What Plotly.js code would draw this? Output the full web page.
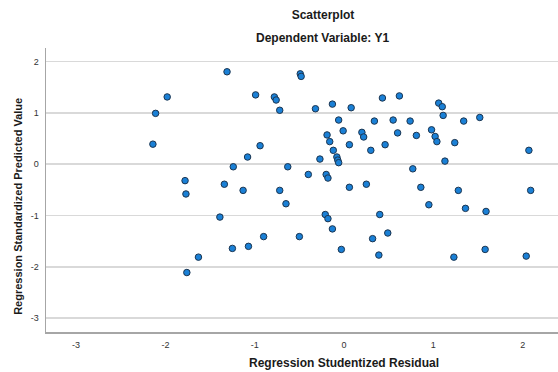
<!DOCTYPE html>
<html>
<head>
<meta charset="utf-8">
<script src="https://cdn.plot.ly/plotly-3.0.1.min.js"></script>
<style>html,body{margin:0;padding:0;background:#fff;}#chart{width:558px;height:372px;}</style>
</head>
<body>
<div id="chart"></div>
<script>
// Regression Studentized Residual
const residual = [
  -1.98, -2.11, -2.14, -1.78, -1.77, -1.63, -1.76, -1.39, -1.25, -1.07,
  -0.90, -0.50, -0.21, -0.18, -0.13, -0.03, 0.32, 0.39, 0.40, -1.31,
  -0.49, -0.48, -0.99, -0.78, -0.76, -0.72, -0.32, -0.13, 0.08, -0.06,
  0.34, -0.01, 0.20, 0.22, -0.19, -0.16, 0.06, 0.30, -0.12, -0.94,
  -1.08, -0.27, -0.08, -0.07, -0.06, -1.24, -0.63, -0.40, -0.20, -0.18,
  -1.34, -1.13, -0.72, -0.65, 0.06, 0.25, 0.86, 1.28, 2.09, 0.95,
  1.36, 1.59, 0.49, 1.23, 1.58, 2.04, 0.43, 0.62, 1.06, 1.10,
  1.11, 0.55, 0.74, 1.34, 1.52, 0.60, 0.81, 0.98, 1.02, 1.04,
  1.24, 0.46, 2.07, 1.13, 0.77
];
// Regression Standardized Predicted Value
const predicted = [
  1.31, 0.99, 0.39, -0.32, -0.58, -1.81, -2.11, -1.03, -1.64, -1.60,
  -1.41, -1.41, -0.98, -1.06, -1.26, -1.66, -1.45, -1.77, -0.98, 1.80,
  1.76, 1.71, 1.35, 1.31, 1.25, 1.05, 1.08, 1.17, 1.10, 0.86,
  0.84, 0.65, 0.62, 0.53, 0.57, 0.44, 0.38, 0.27, 0.27, 0.36,
  0.14, 0.10, 0.14, 0.08, 0.03, -0.05, -0.05, -0.20, -0.20, -0.27,
  -0.39, -0.51, -0.51, -0.77, -0.45, -0.39, -0.45, -0.51, -0.51, -0.79,
  -0.86, -0.92, -1.34, -1.81, -1.66, -1.79, 1.29, 1.33, 1.19, 1.12,
  0.95, 0.86, 0.84, 0.84, 0.91, 0.61, 0.56, 0.67, 0.54, 0.44,
  0.42, 0.38, 0.27, 0.06, -0.09
];
const xTicks = [-3, -2, -1, 0, 1, 2];
const yTicks = [-3, -2, -1, 0, 1, 2];

const FONT = 'Arial, "Liberation Sans", sans-serif';

const trace = {
  type: 'scatter',
  mode: 'markers',
  x: residual,
  y: predicted,
  marker: {
    size: 6.5,
    color: '#1a80d6',
    line: {color: '#1c3550', width: 1}
  },
  hoverinfo: 'x+y'
};

const layout = {
  width: 558,
  height: 372,
  margin: {l: 46, r: 0, t: 48, b: 40},
  paper_bgcolor: '#ffffff',
  plot_bgcolor: '#ffffff',
  showlegend: false,
  font: {family: FONT, color: '#222'},
  title: {
    text: '<b>Scatterplot</b>',
    font: {family: FONT, size: 12, color: '#1a1a1a'},
    xref: 'paper',
    x: 0.541, xanchor: 'center',
    y: 1 - 15/372, yanchor: 'middle'
  },
  annotations: [
    {
      text: '<b>Dependent Variable: Y1</b>',
      xref: 'paper', yref: 'paper',
      x: 0.541, y: 1 + 10/284,
      xanchor: 'center', yanchor: 'middle',
      showarrow: false,
      font: {family: FONT, size: 12, color: '#1a1a1a'}
    },
    {
      text: '<b>Regression Studentized Residual</b>',
      xref: 'x', yref: 'paper',
      x: 0, y: -31/284,
      xanchor: 'center', yanchor: 'middle',
      showarrow: false,
      font: {family: FONT, size: 12, color: '#1a1a1a'}
    },
    {
      text: '<b>Regression Standardized Predicted Value</b>',
      xref: 'paper', yref: 'paper',
      x: -28/512, y: (332.3 - 207)/284.3,
      xanchor: 'center', yanchor: 'middle',
      textangle: -90,
      showarrow: false,
      font: {family: FONT, size: 11, color: '#1a1a1a'}
    }
  ],
  xaxis: {
    range: [-3.337, 2.396],
    tickvals: xTicks,
    ticktext: xTicks.map(String),
    showgrid: false,
    zeroline: false,
    showline: true,
    linecolor: '#a6a6a6',
    linewidth: 1.5,
    ticks: '',
    tickfont: {family: FONT, size: 9, color: '#333'},
    ticklabelstandoff: 4,
    fixedrange: true
  },
  yaxis: {
    range: [-3.268, 2.263],
    tickvals: yTicks,
    ticktext: yTicks.map(String),
    showgrid: true,
    gridcolor: '#d9d9d9',
    gridwidth: 1.5,
    zeroline: false,
    showline: true,
    linecolor: '#a6a6a6',
    linewidth: 1.5,
    ticks: '',
    tickfont: {family: FONT, size: 9, color: '#333'},
    ticklabelstandoff: 4,
    fixedrange: true
  }
};

Plotly.newPlot('chart', [trace], layout, {staticPlot: true, displayModeBar: false});
</script>
</body>
</html>
